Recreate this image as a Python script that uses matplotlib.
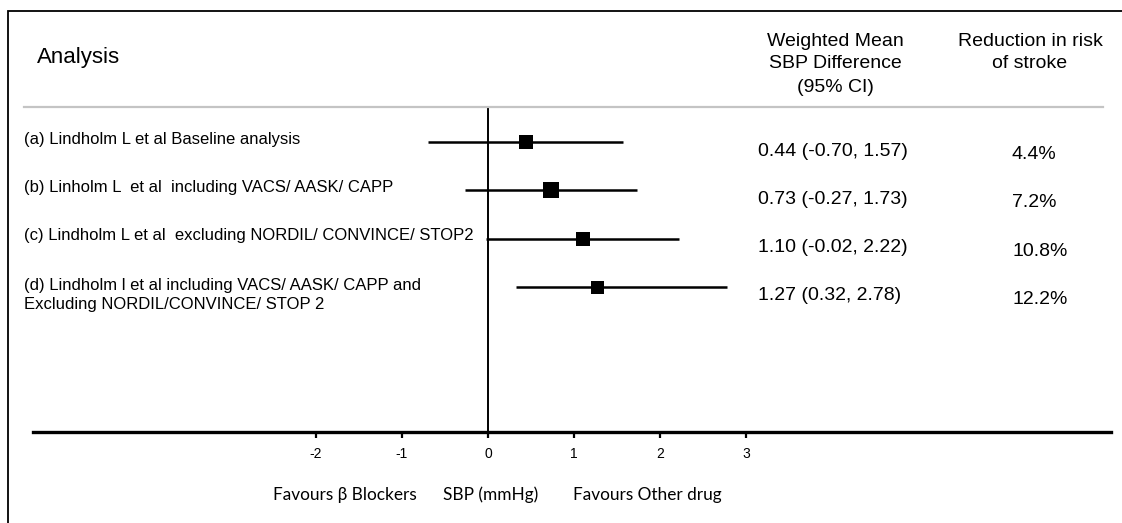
import matplotlib
matplotlib.use("Agg")
import matplotlib.pyplot as plt
from matplotlib.patches import Rectangle
from matplotlib.lines import Line2D

plt.rcParams["font.family"] = ["Liberation Sans", "DejaVu Sans"]

# data
labels = [
    "(a) Lindholm L et al Baseline analysis",
    "(b) Linholm L  et al  including VACS/ AASK/ CAPP",
    "(c) Lindholm L et al  excluding NORDIL/ CONVINCE/ STOP2",
    "(d) Lindholm l et al including VACS/ AASK/ CAPP and\nExcluding NORDIL/CONVINCE/ STOP 2",
]
means = [0.44, 0.73, 1.10, 1.27]
lower = [-0.70, -0.27, -0.02, 0.32]
upper = [1.57, 1.73, 2.22, 2.78]
ci_text = ["0.44 (-0.70, 1.57)", "0.73 (-0.27, 1.73)", "1.10 (-0.02, 2.22)", "1.27 (0.32, 2.78)"]
risk_text = ["4.4%", "7.2%", "10.8%", "12.2%"]
box_px = [14, 16, 14, 13]
xticks = [-2, -1, 0, 1, 2, 3]
head_ci = ["Weighted Mean", "SBP Difference", "(95% CI)"]
head_risk = ["Reduction in risk", "of stroke"]
bottom_text = ["Favours β Blockers", "SBP (mmHg)", "Favours Other drug"]

W, H = 1122, 523
fig = plt.figure(figsize=(W / 100, H / 100), dpi=100)


def fx(px):
    return px / W


def fy(py):
    return 1 - py / H


# layout in pixels
ax_l, ax_r, ax_t, ax_b = 33, 1111, 107, 432
x0_px, unit_px = 488, 86
row0_px, row_px = 142, 48.3

ax = fig.add_axes([fx(ax_l), fy(ax_b), fx(ax_r) - fx(ax_l), fy(ax_t) - fy(ax_b)])
ax.set_xlim((ax_l - x0_px) / unit_px, (ax_r - x0_px) / unit_px)
ax.set_ylim((ax_b - row0_px) / row_px, (ax_t - row0_px) / row_px)
for s in ["top", "right", "left"]:
    ax.spines[s].set_visible(False)
ax.spines["bottom"].set_linewidth(2.4)
ax.set_yticks([])
ax.set_xticks(xticks)
ax.set_xticklabels([str(t) for t in xticks], fontsize=10)
ax.tick_params(axis="x", direction="out", length=4.5, width=1.6, pad=6)
ax.patch.set_alpha(0)

ax.axvline(0, color="black", lw=1.4)

rows = list(range(len(labels)))
for i in rows:
    ax.plot([lower[i], upper[i]], [i, i], color="black", lw=1.8, solid_capstyle="butt")
    ax.plot(means[i], i, marker="s", color="black", ms=box_px[i] * 0.72, mew=0)

# frame and separator
fig.add_artist(Rectangle((fx(8), fy(530)), fx(1130) - fx(8), fy(11) - fy(530),
                         transform=fig.transFigure, fill=False, ec="black", lw=1.3))
fig.add_artist(Line2D([fx(24), fx(1103)], [fy(107), fy(107)], transform=fig.transFigure,
                      color="#c4c4c4", lw=1.6))

# headers
fig.text(fx(37), fy(57), "Analysis", fontsize=16, va="center", ha="left")
for k, t in enumerate(head_ci):
    fig.text(fx(835), fy(41 + 23 * k), t, fontsize=14, ha="center", va="center")
for k, t in enumerate(head_risk):
    fig.text(fx(1030), fy(41 + 23 * k), t, fontsize=14, ha="center", va="center")

# rows text
for i in rows:
    yp = row0_px + row_px * i
    if "\n" in labels[i]:
        fig.text(fx(24), fy(yp + 8), labels[i], fontsize=12, ha="left", va="center",
                 linespacing=1.3)
    else:
        fig.text(fx(24), fy(yp - 3), labels[i], fontsize=12, ha="left", va="center")
    fig.text(fx(758), fy(yp + 9), ci_text[i], fontsize=14, ha="left", va="center")
    fig.text(fx(1012), fy(yp + 12.5), risk_text[i], fontsize=14, ha="left", va="center")

# bottom labels
bfont = ["Lato", "DejaVu Sans"]
for x, t in zip([273, 443, 573], bottom_text):
    fig.text(fx(x), fy(495), t, fontsize=12.4, ha="left", va="center", family=bfont)

fig.savefig("out.png", dpi=100)
